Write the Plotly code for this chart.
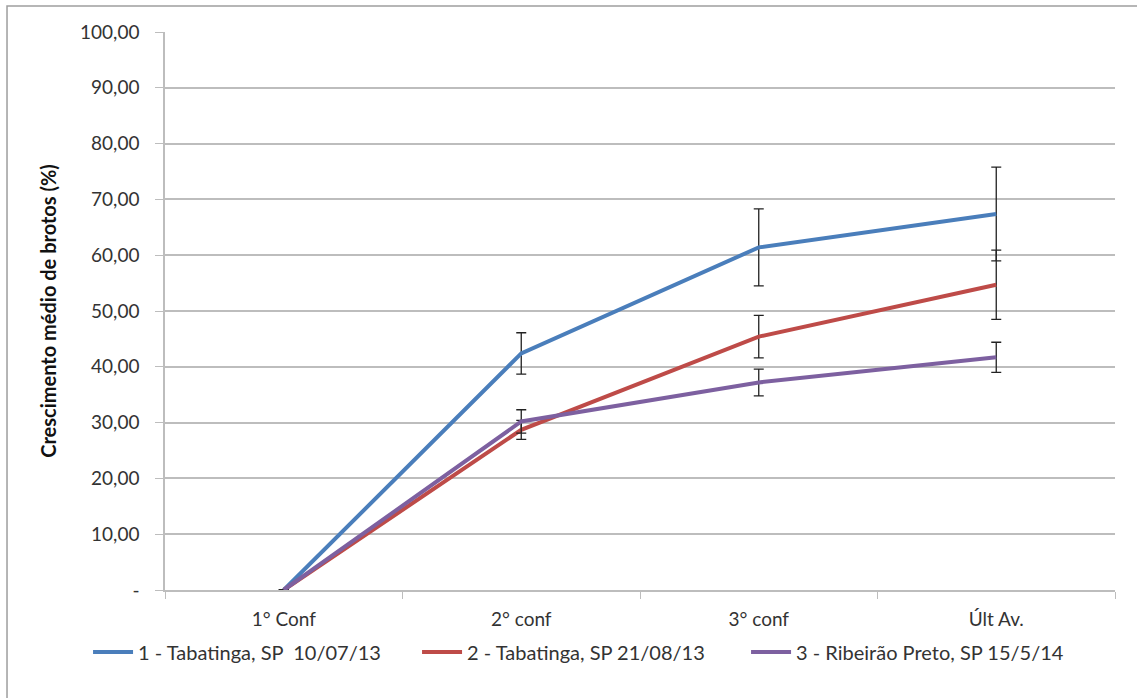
import plotly.graph_objects as go

# Avaliações (eixo de categorias)
categorias = ["1° Conf", "2° conf", "3° conf", "Últ Av."]

# Crescimento médio de brotos (%) por área e desvio de cada média
series = ["1 - Tabatinga, SP\u00a0 10/07/13",
          "2 - Tabatinga, SP 21/08/13",
          "3 - Ribeirão Preto, SP 15/5/14"]
tabatinga_1 = [0.0, 42.4, 61.4, 67.4]
tabatinga_1_erro = [0.0, 3.7, 6.9, 8.4]
tabatinga_2 = [0.0, 28.7, 45.4, 54.7]
tabatinga_2_erro = [0.0, 1.7, 3.8, 6.2]
ribeirao = [0.0, 30.2, 37.2, 41.7]
ribeirao_erro = [0.0, 2.1, 2.4, 2.7]

cores = ["#4A7EBB", "#BE4B48", "#7D60A0"]

# Rótulos do eixo Y no formato contábil (zero como "-")
y_ticks = [0, 10, 20, 30, 40, 50, 60, 70, 80, 90, 100]
y_labels = ["-"] + [f"{v:.2f}".replace(".", ",") for v in y_ticks[1:]]

fig = go.Figure()
for nome, valores, erros, cor in zip(
        series,
        [tabatinga_1, tabatinga_2, ribeirao],
        [tabatinga_1_erro, tabatinga_2_erro, ribeirao_erro],
        cores):
    fig.add_trace(go.Scatter(
        x=categorias, y=valores, name=nome, mode="lines",
        line=dict(color=cor, width=4),
        error_y=dict(type="data", array=erros, visible=True,
                     color="#222222", thickness=1.3, width=5),
    ))

texto = "#333333"
grade = "#BDBDBD"

fig.update_layout(
    width=1137, height=698,
    margin=dict(l=165, r=22, t=32, b=108),
    paper_bgcolor="white", plot_bgcolor="white",
    font=dict(family="Lato, 'Open Sans', sans-serif", size=19, color=texto),
    showlegend=True,
    legend=dict(orientation="h", x=-0.081, xanchor="left", y=-0.111,
                yanchor="middle", font=dict(size=20, color=texto),
                entrywidth=274, entrywidthmode="pixels",
                itemwidth=40, tracegroupgap=0),
    xaxis=dict(
        type="category", range=[-0.5, 3.5],
        tickson="boundaries", ticks="outside", ticklen=7,
        tickcolor=grade, showgrid=False,
        showline=True, linecolor=grade, linewidth=2,
        ticklabelstandoff=11, tickfont=dict(size=19, color=texto),
    ),
    yaxis=dict(
        range=[0, 100], tickvals=y_ticks, ticktext=y_labels,
        ticks="outside", ticklen=8, tickcolor=grade,
        showgrid=True, gridcolor=grade, gridwidth=1.5,
        showline=True, linecolor=grade, linewidth=1.5,
        zeroline=False, ticklabelstandoff=12,
        tickfont=dict(size=19, color=texto),
        title=dict(text="<b>Crescimento médio de brotos (%)</b>",
                   font=dict(size=20, color="#111111"), standoff=18),
    ),
    shapes=[dict(type="rect", xref="paper", yref="paper",
                 x0=-0.1663, x1=1.2, y0=-0.3, y1=1.0466,
                 line=dict(color="#9E9E9E", width=1.5),
                 fillcolor="rgba(0,0,0,0)", layer="below")],
)

fig.write_html("out.html")
